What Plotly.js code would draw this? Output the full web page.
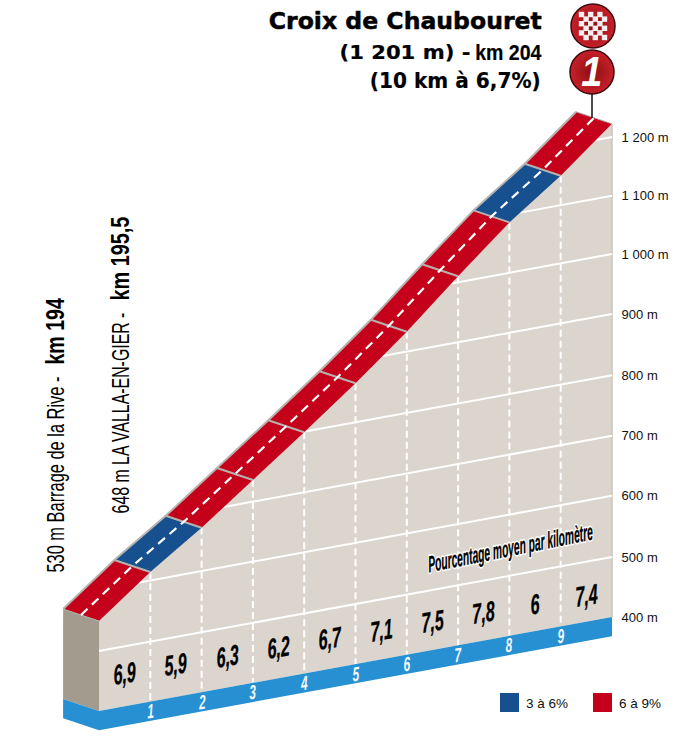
<!DOCTYPE html>
<html>
<head>
<meta charset="utf-8">
<script src="https://cdn.plot.ly/plotly-3.0.1.min.js"></script>
<style>html,body{margin:0;padding:0;background:#fff}#c{width:685px;height:745px}</style>
</head>
<body>
<div id="c"></div>
<script>
// ---- data ----
const kmMarks   = [0,1,2,3,4,5,6,7,8,9,10];
const roadAlt   = [550,616,674,738,802,868,938,1015,1089,1151,1222];
const grades    = [6.9,5.9,6.3,6.2,6.7,7.1,7.5,7.8,6,7.4];
const gradeText = ["6,9","5,9","6,3","6,2","6,7","7,1","7,5","7,8","6","7,4"];
const altLabels = ["400 m","500 m","600 m","700 m","800 m","900 m","1 000 m","1 100 m","1 200 m"];
const gridLevels= [400,500,602,702,803,905,1005,1102,1200];
const legendNames = ["3 à 6%","6 à 9%"];

// ---- styles / projection ----
const RED="#c4001a", BLUE="#16508f", SKY="#2690d2", TERRAIN="#dbd5cd", WALL="#a39b8e", EDGE="#b7b2ae";
const FS="'Liberation Sans',sans-serif", FD="'DejaVu Sans',sans-serif";
const skew=15.67, depthKm=-0.70, depthAlt=20, baseAlt=400, bandDepth=32;
const P=(km,alt,d=0)=>[km+d*depthKm, alt+skew*(km-10)+d*depthAlt];
const poly=(pts)=>({x:pts.map(p=>p[0]),y:pts.map(p=>p[1])});
const traces=[];
const shape=(pts,color)=>traces.push({type:'scatter',mode:'lines',...poly(pts),fill:'toself',fillcolor:color,line:{width:0,color:color},hoverinfo:'skip',showlegend:false});
const line=(pts,color,width,dash,extra={})=>traces.push(Object.assign({type:'scatter',mode:'lines',...poly(pts),line:{color,width,dash:dash||'solid'},hoverinfo:'skip',showlegend:false},extra));
const ov={xaxis:'x2',yaxis:'y2'};

// terrain
shape([...kmMarks.map((k,i)=>P(k,roadAlt[i])),P(10,baseAlt),P(0,baseAlt)],TERRAIN);
line([P(10,roadAlt[10]),P(10,baseAlt)],"#c9c4be",1.5);

// altitude grid
gridLevels.slice(1).forEach(level=>{
  let i=roadAlt.findIndex(a=>a>level);
  let start=0;
  if(i>0) start=kmMarks[i-1]+(level-roadAlt[i-1])/(roadAlt[i]-roadAlt[i-1]);
  line([P(start,level),P(10,level)],"#ffffff",2);
});
// km dashes
kmMarks.slice(1,10).forEach(k=>line([P(k,roadAlt[k]),P(k,baseAlt)],"#ffffff",2,"7px,4px"));

// wall and base band
shape([P(0,roadAlt[0],1),P(0,roadAlt[0]),P(0,baseAlt),P(0,baseAlt,1)],WALL);
shape([P(0,baseAlt,1),P(0,baseAlt),P(10,baseAlt),P(10,baseAlt-bandDepth),P(0,baseAlt-bandDepth),P(0,baseAlt-bandDepth,1)],SKY);

// road segments
grades.forEach((g,i)=>{
  const a=roadAlt[i],b=roadAlt[i+1];
  shape([P(i,a),P(i+1,b),P(i+1,b,1),P(i,a,1)],g<=6?BLUE:RED);
});
line(kmMarks.map((k,i)=>P(k,roadAlt[i],1)),EDGE,2);
line([P(0,roadAlt[0],1),P(0,roadAlt[0])],EDGE,1);
line([P(10,roadAlt[10],1),P(10,roadAlt[10])],EDGE,1);
kmMarks.slice(1,10).forEach(k=>line([P(k,roadAlt[k]),P(k,roadAlt[k],1)],EDGE,2));
line(kmMarks.map((k,i)=>P(k,roadAlt[i],0.5)),"#ffffff",2.2,"9px,6px");

// ---- decorations on a pixel overlay ----
line([[592,118],[592,90]],"#111",1.5,null,ov);
[[593,26],[592,72]].forEach(c=>{
  traces.push({type:'scatter',mode:'markers',x:[c[0]],y:[c[1]],...ov,hoverinfo:'skip',showlegend:false,
    marker:{size:44,color:"#c9202a",line:{color:"#3a0a0c",width:1.5},gradient:{type:'radial',color:"#8a0f14"}}});
});
// checker flag
const ck={x:[],y:[]};
for(let r=0;r<6;r++)for(let c=0;c<6;c++){ if((r+c)%2===0){ck.x.push(581.5+c*4.6);ck.y.push(14.5+r*4.6);} }
traces.push({type:'scatter',mode:'markers',...ck,...ov,hoverinfo:'skip',showlegend:false,marker:{symbol:'square',size:5.4,color:"#f4eeee",line:{width:0}}});
// legend swatches
[[509.5,BLUE],[602.5,RED]].forEach(s=>{
  traces.push({type:'scatter',mode:'markers',x:[s[0]],y:[702.5],...ov,hoverinfo:'skip',showlegend:false,marker:{symbol:'square',size:19,color:s[1],line:{width:0}}});
});

// ---- text ----
const ann=[];
const fits=[];   // horizontal condensation of text, applied after drawing
const T=(text,x,y,opt={},fit=null)=>{fits.push(fit);ann.push(Object.assign({text,x,y,xref:'x2',yref:'y2',showarrow:false,xanchor:'center',yanchor:'middle',font:{family:FS,size:13,color:'#000'}},opt));};
const black=(family,size)=>({family,size,color:'#000'});
T("<b>Croix de Chaubouret</b>",405,21,{font:black(FD,23.7)},{len:273,stroke:.5});
T("<b>(1 201 m) -</b>",404.5,52,{font:black(FD,20)},{len:131,stroke:.2});
T("<b>km 204</b>",508.5,52,{font:black(FS,22)},{len:67,stroke:.2});
T("<b>(10 km à 6,7%)</b>",455.5,81,{font:black(FD,21)},{len:171,stroke:.2});
T("530 m Barrage de la Rive -",56,475,{textangle:-90,font:black(FS,23)},{len:196});
T("<b>km 194</b>",55,331.5,{textangle:-90,font:black(FS,26)},{len:67});
T("648 m LA VALLA-EN-GIER -",121.5,413,{textangle:-90,font:black(FS,23)},{len:201});
T("<b>km 195,5</b>",120,258.5,{textangle:-90,font:black(FS,26)},{len:84});
T("<b><i>1</i></b>",591,71,{font:{family:FS,size:42,color:'#fff'}},{scale:.9});
const noteText="<b><i>Pourcentage moyen par kilomètre</i></b>";
T(noteText,510,548,{textangle:-11.4,font:{family:FS,size:23,color:'#fff'}},{len:168,skew:-6,stroke:3.5,strokeColor:'#fff'});
T(noteText,510,548,{textangle:-11.4,font:{family:FS,size:23,color:'#000'}},{len:168,skew:-6,stroke:.3});
T(legendNames[0],546.5,703,{font:{family:FS,size:13.5,color:'#111'}});
T(legendNames[1],639.5,703,{font:{family:FS,size:13.5,color:'#111'}});

gradeText.forEach((t,i)=>{
  const p=P(i+0.5,baseAlt+55-1.3*i);
  fits.push({scale:.58,stroke:.3,skew:-7});
  ann.push({text:"<b><i>"+t+"</i></b>",x:p[0],y:p[1],xref:'x',yref:'y',showarrow:false,textangle:-10,font:{family:FS,size:28,color:'#000'}});
});
kmMarks.slice(1,10).forEach(k=>{
  const p=P(k,baseAlt-16);
  fits.push({scale:.6,skew:-6});
  ann.push({text:"<b><i>"+k+"</i></b>",x:p[0],y:p[1],xref:'x',yref:'y',showarrow:false,textangle:-8,font:{family:FS,size:20,color:'#f2f8fc'}});
});

const layout={
  width:685,height:745,margin:{l:0,r:0,t:0,b:0},paper_bgcolor:'#fff',plot_bgcolor:'rgba(0,0,0,0)',showlegend:false,
  xaxis:{range:[-1.93,11.423],visible:false,fixedrange:true},
  yaxis:{range:[186.7,1428.3],fixedrange:true,showgrid:false,zeroline:false,showline:false,ticks:'',side:'right',anchor:'free',position:0.906,
    tickmode:'array',tickvals:gridLevels.map(a=>P(10,a)[1]),ticktext:altLabels,tickfont:{family:FS,size:13,color:'#111'}},
  xaxis2:{range:[0,685],visible:false,overlaying:'x',fixedrange:true},
  yaxis2:{range:[745,0],visible:false,overlaying:'y',fixedrange:true},
  annotations:ann
};
Plotly.newPlot('c',traces,layout,{staticPlot:true,displayModeBar:false}).then(()=>{
  fits.forEach((f,i)=>{
    if(!f) return;
    const el=document.querySelector('.annotation[data-index="'+i+'"] text');
    if(!el) return;
    const b=el.getBBox();
    const s=f.scale||(f.len/b.width);
    const cx=b.x+b.width/2, cy=b.y+b.height/2;
    el.setAttribute('transform','translate('+cx+' '+cy+') skewX('+(f.skew||0)+') scale('+s+' 1) translate('+(-cx)+' '+(-cy)+')');
    if(f.stroke){el.style.stroke=f.strokeColor||'#000';el.style.strokeWidth=f.stroke+'px';el.style.strokeLinejoin='round';}
  });
});
</script>
</body>
</html>
